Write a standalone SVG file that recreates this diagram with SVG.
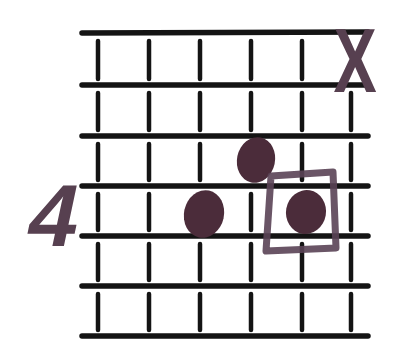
<svg xmlns="http://www.w3.org/2000/svg" width="396" height="346" viewBox="0 0 396 346">
<style>
.fret{stroke:#141414;stroke-width:5.5;stroke-linecap:round;fill:none}
.str{stroke:#141414;stroke-width:4.5;stroke-linecap:round;fill:none}
.dot{fill:#4b2c3a}
.mark{fill:#574050;font-family:"Liberation Sans",Arial,sans-serif;font-weight:bold}
</style>
<rect width="396" height="346" fill="#ffffff"/>
<g id="connectors">
<g id="frets">
<line class="fret" x1="82" y1="33" x2="368" y2="32"/>
<line class="fret" x1="82" y1="85" x2="368" y2="85"/>
<line class="fret" x1="82" y1="136" x2="368" y2="136"/>
<line class="fret" x1="82" y1="186" x2="368" y2="186"/>
<line class="fret" x1="82" y1="236" x2="368" y2="236"/>
<line class="fret" x1="82" y1="286" x2="368" y2="286"/>
<line class="fret" x1="82" y1="336" x2="368" y2="336"/>
</g>
<g id="strings">
<line class="str" x1="98" y1="41" x2="98" y2="79"/>
<line class="str" x1="149" y1="41" x2="149" y2="79"/>
<line class="str" x1="200" y1="41" x2="200" y2="79"/>
<line class="str" x1="251" y1="41" x2="251" y2="79"/>
<line class="str" x1="302" y1="41" x2="302" y2="79"/>

<line class="str" x1="98" y1="93" x2="98" y2="130"/>
<line class="str" x1="149" y1="93" x2="149" y2="130"/>
<line class="str" x1="200" y1="93" x2="200" y2="130"/>
<line class="str" x1="251" y1="93" x2="251" y2="130"/>
<line class="str" x1="302" y1="93" x2="302" y2="130"/>
<line class="str" x1="351" y1="93" x2="351" y2="130"/>

<line class="str" x1="98" y1="144" x2="98" y2="180"/>
<line class="str" x1="149" y1="144" x2="149" y2="180"/>
<line class="str" x1="200" y1="144" x2="200" y2="180"/>
<line class="str" x1="302" y1="144" x2="302" y2="180"/>
<line class="str" x1="351" y1="144" x2="351" y2="180"/>

<line class="str" x1="98" y1="194" x2="98" y2="230"/>
<line class="str" x1="149" y1="194" x2="149" y2="230"/>
<line class="str" x1="251" y1="194" x2="251" y2="230"/>
<line class="str" x1="351" y1="194" x2="351" y2="230"/>

<line class="str" x1="98" y1="244" x2="98" y2="280"/>
<line class="str" x1="149" y1="244" x2="149" y2="280"/>
<line class="str" x1="200" y1="244" x2="200" y2="280"/>
<line class="str" x1="251" y1="244" x2="251" y2="280"/>
<line class="str" x1="302" y1="244" x2="302" y2="280"/>
<line class="str" x1="351" y1="244" x2="351" y2="280"/>

<line class="str" x1="98" y1="294" x2="98" y2="330"/>
<line class="str" x1="149" y1="294" x2="149" y2="330"/>
<line class="str" x1="200" y1="294" x2="200" y2="330"/>
<line class="str" x1="251" y1="294" x2="251" y2="330"/>
<line class="str" x1="302" y1="294" x2="302" y2="330"/>
<line class="str" x1="351" y1="294" x2="351" y2="330"/>
</g>
</g>
<g id="dot1"><ellipse class="dot" cx="256" cy="160" rx="19" ry="23" transform="rotate(12 256 160)"/></g>
<g id="dot2"><ellipse class="dot" cx="204" cy="214" rx="20" ry="24" transform="rotate(12 204 214)"/></g>
<g id="dot3"><ellipse class="dot" cx="306" cy="212" rx="20" ry="22" transform="rotate(10 306 212)"/></g>
<g id="box"><path d="M271 176 L333 172 L336 248 L266 251 Z" fill="none" stroke="#5a4255" stroke-width="7" stroke-linejoin="round" opacity="0.9"/></g>
<g id="mute"><text class="mark" transform="translate(355,92) scale(0.72,1)" font-size="90" text-anchor="middle">X</text></g>
<g id="fret-number"><text class="mark" transform="translate(48,246) skewX(-12)" font-size="88" text-anchor="middle">4</text></g>
</svg>
